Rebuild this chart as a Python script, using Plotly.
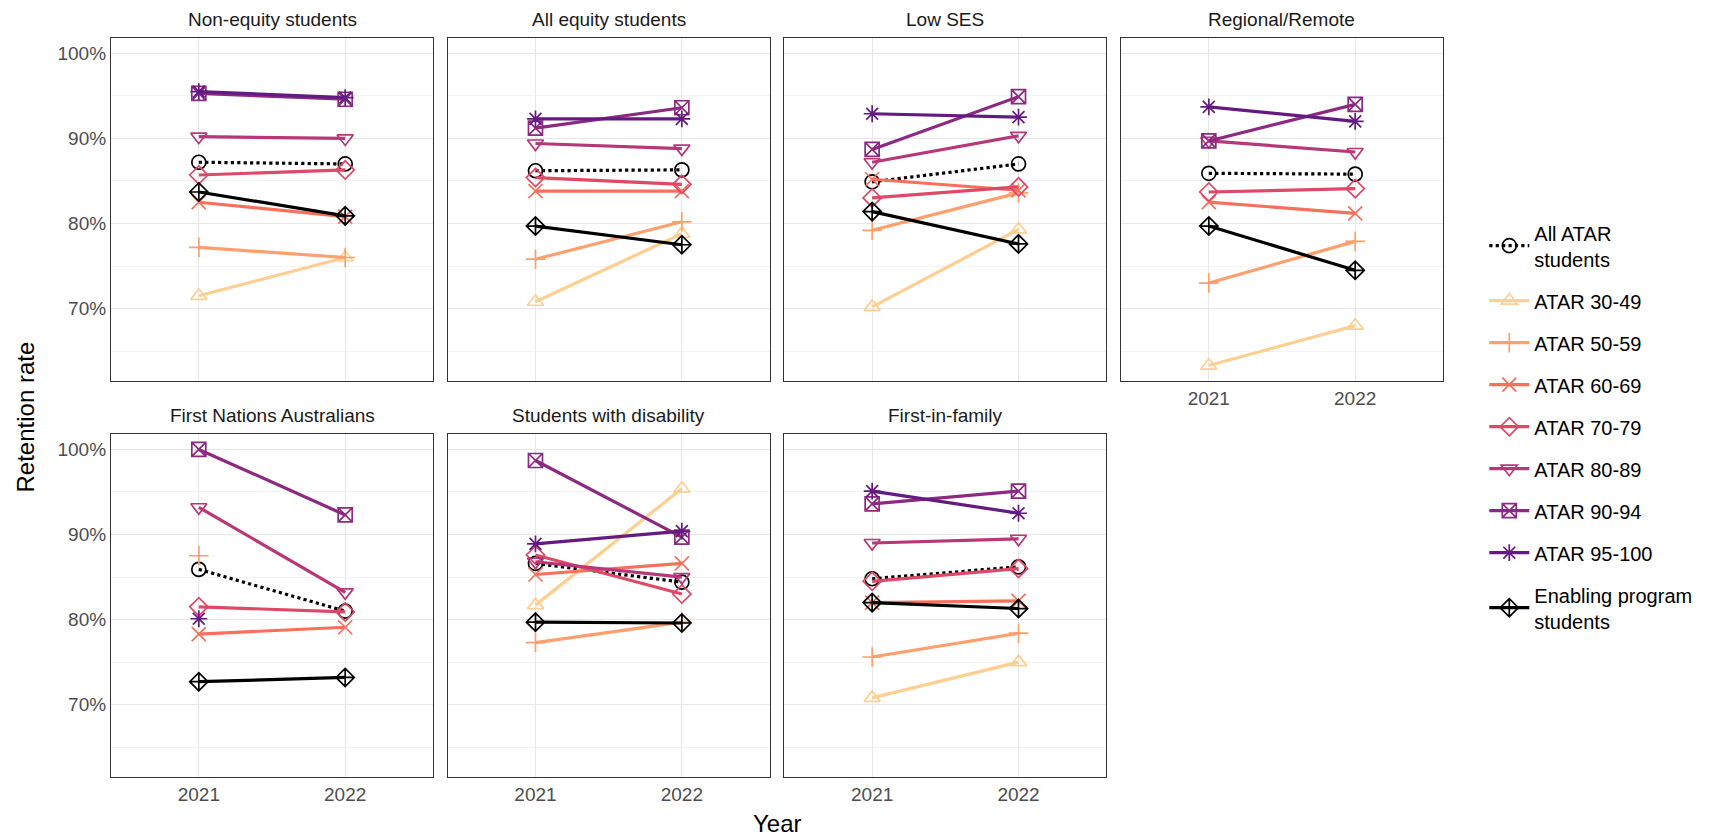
import plotly.graph_objects as go
from plotly.subplots import make_subplots

# ---------------- data ----------------
panels = ["Non-equity students", "All equity students", "Low SES", "Regional/Remote",
          "First Nations Australians", "Students with disability", "First-in-family"]
years = [2021, 2022]

# (2021, 2022) retention rate (%) per panel, in panel order
all_atar = [(87.2, 87.0), (86.2, 86.3), (84.9, 87.0), (85.9, 85.8), (85.9, 81.0), (86.6, 84.4), (84.8, 86.2)]
atar_30_49 = [(71.5, 76.0), (70.8, 78.8), (70.2, 79.3), (63.3, 68.0), (None, None), (81.7, 95.4), (70.8, 75.0)]
atar_50_59 = [(77.2, 76.0), (75.8, 80.2), (79.2, 83.6), (73.0, 77.9), (87.5, None), (77.3, 79.7), (75.6, 78.4)]
atar_60_69 = [(82.5, 80.8), (83.8, 83.8), (85.2, 83.9), (82.5, 81.2), (78.3, 79.1), (85.3, 86.6), (82.0, 82.2)]
atar_70_79 = [(85.7, 86.3), (85.4, 84.6), (83.0, 84.3), (83.7, 84.1), (81.5, 80.9), (87.6, 83.0), (84.5, 86.0)]
atar_80_89 = [(90.2, 90.0), (89.4, 88.8), (87.2, 90.3), (89.7, 88.4), (93.2, 83.2), (86.8, 85.0), (89.0, 89.5)]
atar_90_94 = [(95.3, 94.6), (91.2, 93.6), (88.7, 94.9), (89.7, 94.0), (100.0, 92.3), (98.7, 89.7), (93.6, 95.1)]
atar_95_100 = [(95.5, 94.8), (92.3, 92.3), (92.9, 92.5), (93.7, 92.0), (80.1, None), (88.9, 90.4), (95.1, 92.5)]
enabling = [(83.7, 80.9), (79.7, 77.5), (81.4, 77.6), (79.7, 74.5), (72.7, 73.2), (79.7, 79.6), (82.0, 81.3)]

series_names = ["All ATAR<br>students", "ATAR 30-49", "ATAR 50-59", "ATAR 60-69", "ATAR 70-79",
                "ATAR 80-89", "ATAR 90-94", "ATAR 95-100", "Enabling program<br>students"]
series_values = [all_atar, atar_30_49, atar_50_59, atar_60_69, atar_70_79,
                 atar_80_89, atar_90_94, atar_95_100, enabling]
series_colors = ["#000000", "#FECF92", "#FE9F6D", "#F7705C", "#DE4968",
                 "#B73779", "#8C2981", "#641A80", "#000000"]
series_symbols = ["circle-open", "triangle-up-open", "cross-thin-open", "x-thin-open", "diamond-open",
                  "triangle-down-open", "square-x-open", "asterisk-open", "diamond-cross-open"]
series_dash = ["dot", "solid", "solid", "solid", "solid", "solid", "solid", "solid", "solid"]

y_ticks = [70, 80, 90, 100]
y_tick_labels = ["70%", "80%", "90%", "100%"]

# ---------------- figure ----------------
FONT = "Liberation Sans, Arial, sans-serif"
fig = make_subplots(
    rows=2, cols=4,
    specs=[[{}, {}, {}, {}], [{}, {}, {}, None]],
    subplot_titles=panels,
    horizontal_spacing=0.011,
    vertical_spacing=0.072,
)

positions = [(1, 1), (1, 2), (1, 3), (1, 4), (2, 1), (2, 2), (2, 3)]

for s_idx, (name, vals, col, sym, dash) in enumerate(
        zip(series_names, series_values, series_colors, series_symbols, series_dash)):
    for p_idx, (r, c) in enumerate(positions):
        y = list(vals[p_idx])
        fig.add_trace(
            go.Scatter(
                x=years, y=y, mode="lines+markers", name=name,
                legendgroup=name, showlegend=(p_idx == 0),
                line=dict(color=col, width=3.2, dash=dash),
                marker=dict(symbol=sym, size=14, color=col, line=dict(width=1.7, color=col)),
                connectgaps=False,
            ),
            row=r, col=c,
        )

for p_idx, (r, c) in enumerate(positions):
    show_x = (r == 2) or (c == 4)
    fig.update_xaxes(
        row=r, col=c, range=[2020.4, 2022.6], tickvals=years, ticktext=[str(v) for v in years],
        showticklabels=show_x, showgrid=True, gridcolor="#e8e8e8", gridwidth=1,
        showline=True, mirror=True, linecolor="#333333", linewidth=1.2,
        ticks="", zeroline=False,
        tickfont=dict(family=FONT, size=19, color="#4d4d4d"),
    )
    fig.update_yaxes(
        row=r, col=c, range=[61.5, 101.8], tickvals=y_ticks, ticktext=y_tick_labels,
        showticklabels=(c == 1), showgrid=True, gridcolor="#e8e8e8", gridwidth=1,
        minor=dict(tick0=0, dtick=5, showgrid=True, gridcolor="#f3f3f3", gridwidth=1),
        showline=True, mirror=True, linecolor="#333333", linewidth=1.2,
        ticks="", zeroline=False,
        tickfont=dict(family=FONT, size=19, color="#4d4d4d"),
    )

for ann in fig.layout.annotations:
    ann.font = dict(family=FONT, size=19, color="#1a1a1a")
    ann.yshift = 6

fig.add_annotation(text="Year", xref="paper", yref="paper", x=0.5, y=0, yshift=-46,
                   showarrow=False, yanchor="middle", font=dict(family=FONT, size=24, color="#000000"))
fig.add_annotation(text="Retention rate", xref="paper", yref="paper", x=0, y=0.5, xshift=-86,
                   yshift=-10, showarrow=False, textangle=-90, xanchor="center", yanchor="middle",
                   font=dict(family=FONT, size=24, color="#000000"))

fig.update_layout(
    width=1705, height=830,
    margin=dict(l=103, r=270, t=30, b=61),
    plot_bgcolor="white", paper_bgcolor="white",
    font=dict(family=FONT),
    legend=dict(
        x=1.031, xanchor="left", y=0.474, yanchor="middle",
        traceorder="grouped", tracegroupgap=13,
        font=dict(family=FONT, size=20, color="#000000"),
        itemwidth=40, bgcolor="rgba(0,0,0,0)",
    ),
)

fig.write_html("out.html")
